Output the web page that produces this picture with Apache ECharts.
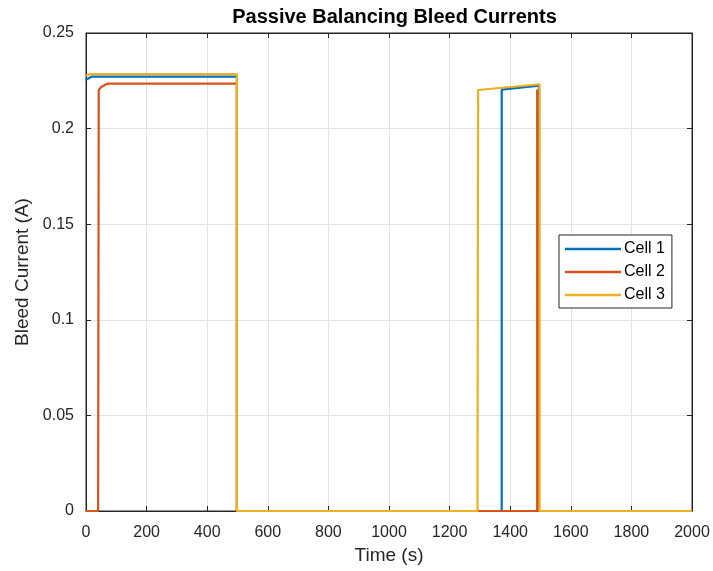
<!DOCTYPE html>
<html><head><meta charset="utf-8">
<script src="https://cdn.jsdelivr.net/npm/echarts@6/dist/echarts.min.js"></script>
<style>html,body{margin:0;padding:0;background:#fff}#c{width:713px;height:571px}</style>
</head><body><div id="c"></div>
<script>
const xTicks = [0,200,400,600,800,1000,1200,1400,1600,1800,2000];
const yTicks = [0,0.05,0.1,0.15,0.2,0.25];
const cell1T = [0, 20, 498, 498, 1372, 1372, 1495, 1495, 2000];
const cell1V = [0.2255, 0.2272, 0.2272, 0, 0, 0.2204, 0.2224, 0, 0];
const cell2T = [0, 40, 42, 50, 70, 498, 498, 1489, 1489, 1493, 1493, 2000];
const cell2V = [0, 0, 0.2200, 0.2218, 0.2235, 0.2235, 0, 0, 0.2205, 0.2208, 0, 0];
const cell3T = [0, 15, 498, 498, 1292, 1294, 1497, 1497, 2000];
const cell3V = [0.2276, 0.2285, 0.2285, 0, 0, 0.2202, 0.2232, 0, 0];
const names = ['Cell 1','Cell 2','Cell 3'];
const colors = ['#0072BD','#D95319','#EDB120'];
const zip = (t,v)=>t.map((x,i)=>[x,v[i]]);
const seriesData = [zip(cell1T,cell1V), zip(cell2T,cell2V), zip(cell3T,cell3V)];
const chart = echarts.init(document.getElementById('c'));
const FF = 'Liberation Sans, Arial, sans-serif';
const axisText = {color:'#262626', fontSize:16, fontFamily:FF};
const tick = {show:true, inside:true, length:5, lineStyle:{color:'#262626'}};
const line = {show:true, onZero:false, lineStyle:{color:'#262626'}};
chart.setOption({
  animation:false,
  backgroundColor:'#fff',
  title:{text:'Passive Balancing Bleed Currents', left:389.5, textAlign:'center', top:2,
    textStyle:{fontSize:20, fontWeight:'bold', color:'#000', fontFamily:FF}},
  grid:{left:86, right:21, top:33, bottom:60, show:true, borderColor:'#262626', borderWidth:1, backgroundColor:'#fff'},
  legend:{orient:'vertical', left:559, top:235, data:names, backgroundColor:'#fff', borderColor:'#262626', borderWidth:1,
    padding:[6,7,5,6], itemGap:7, itemWidth:56, itemHeight:2.5, icon:'rect',
    textStyle:{fontSize:16, color:'#000', fontFamily:FF, padding:[0,0,0,-2]}},
  xAxis:[{type:'value', min:0, max:2000, interval:200, name:'Time (s)', nameLocation:'middle', nameGap:34,
    nameTextStyle:{fontSize:19, color:'#262626', fontFamily:FF},
    axisLine:line, axisTick:tick,
    axisLabel:Object.assign({margin:14, formatter:v=>String(v)}, axisText), splitLine:{show:true, lineStyle:{color:'#e3e3e3'}}},
    {type:'value', position:'top', min:0, max:2000, interval:200, axisLine:line,
    axisTick:tick, axisLabel:{show:false}, splitLine:{show:false}}],
  yAxis:[{type:'value', min:0, max:0.25, interval:0.05, name:'Bleed Current (A)', nameLocation:'middle', nameGap:52,
    nameTextStyle:{fontSize:19, color:'#262626', fontFamily:FF},
    axisLine:line, axisTick:tick,
    axisLabel:Object.assign({margin:12, formatter:v=>String(+v.toFixed(2))}, axisText), splitLine:{show:true, lineStyle:{color:'#e3e3e3'}}},
    {type:'value', position:'right', min:0, max:0.25, interval:0.05, axisLine:line,
    axisTick:tick, axisLabel:{show:false}, splitLine:{show:false}}],
  series: names.map((n,i)=>({name:n, type:'line', data:seriesData[i], showSymbol:false, symbol:'none',
    lineStyle:{width:2.2, color:colors[i]}, itemStyle:{color:colors[i]}, z:2+i}))
});
</script></body></html>
